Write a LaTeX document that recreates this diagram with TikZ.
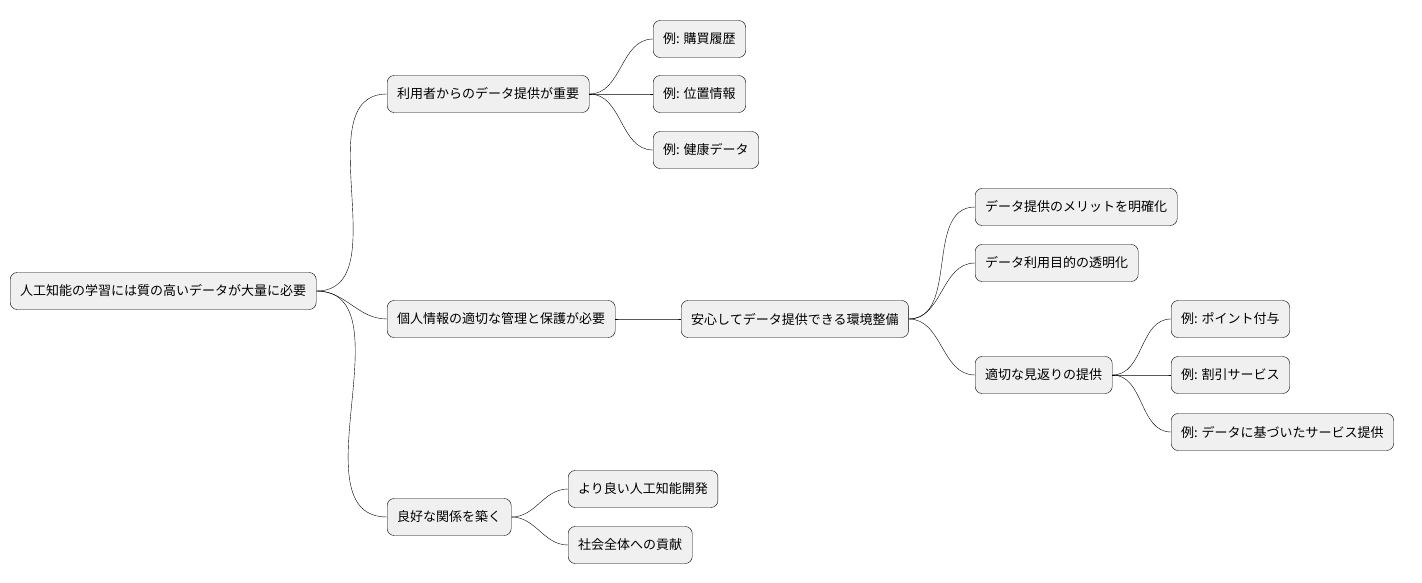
\documentclass[tikz,border=0pt]{standalone}
\usepackage{fontspec}
\setmainfont{Noto Sans CJK JP}
\begin{document}
\begin{tikzpicture}[x=1pt,y=-1pt,
  idea/.style={draw=black,fill=black!6,rounded corners=7pt,minimum height=37pt,
    inner xsep=10pt,anchor=west,font=\fontsize{13}{15}\selectfont,thin},
  link/.style={draw=black,thin}]
\useasboundingbox (0,0) rectangle (1422,583);
% root and first level
\node[idea] (root) at (10,291) {人工知能の学習には質の高いデータが大量に必要};
\node[idea] (user) at (387,94) {利用者からのデータ提供が重要};
\node[idea] (priv) at (387,319) {個人情報の適切な管理と保護が必要};
\node[idea] (rel) at (387,517) {良好な関係を築く};
% examples of data
\node[idea] (buy) at (653,39) {例: 購買履歴};
\node[idea] (pos) at (653,94) {例: 位置情報};
\node[idea] (health) at (653,150) {例: 健康データ};
% environment
\node[idea] (env) at (681,319) {安心してデータ提供できる環境整備};
\node[idea] (merit) at (975,207) {データ提供のメリットを明確化};
\node[idea] (purp) at (975,263) {データ利用目的の透明化};
\node[idea] (reward) at (975,375) {適切な見返りの提供};
\node[idea] (point) at (1171,319) {例: ポイント付与};
\node[idea] (disc) at (1171,375) {例: 割引サービス};
\node[idea] (serv) at (1171,432) {例: データに基づいたサービス提供};
% relation
\node[idea] (ai) at (568,489) {より良い人工知能開発};
\node[idea] (soc) at (568,545) {社会全体への貢献};
% connectors
\foreach \a/\b in {root/user,root/priv,root/rel,user/buy,user/pos,user/health,
  priv/env,env/merit,env/purp,env/reward,reward/point,reward/disc,reward/serv,
  rel/ai,rel/soc}
  \draw[link] (\a.east) to[out=0,in=180] (\b.west);
\end{tikzpicture}
\end{document}
